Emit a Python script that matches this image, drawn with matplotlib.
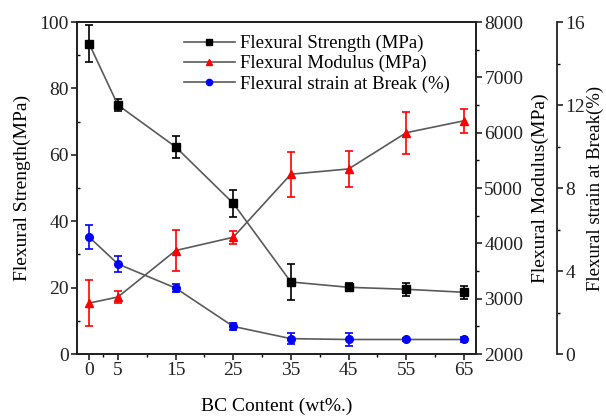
import matplotlib
matplotlib.use("Agg")
import matplotlib.pyplot as plt
from matplotlib.ticker import MultipleLocator, FixedLocator
from matplotlib.lines import Line2D

plt.rcParams['font.family'] = ['Liberation Serif', 'DejaVu Serif']

bc = [0, 5, 15, 25, 35, 45, 55, 65]
tick_labels = ['0', '5', '15', '25', '35', '45', '55', '65']
minor_x = [2.5, 10, 20, 30, 40, 50, 60]

strength = [93.5, 75.0, 62.4, 45.4, 21.7, 20.1, 19.5, 18.6]
strength_err = [5.6, 1.9, 3.4, 4.1, 5.4, 1.2, 2.0, 2.0]

modulus = [2920, 3030, 3870, 4110, 5250, 5345, 6000, 6215]
modulus_err = [420, 100, 370, 120, 410, 320, 380, 220]

strain = [5.64, 4.34, 3.18, 1.33, 0.74, 0.70, 0.70, 0.70]
strain_err = [0.56, 0.37, 0.20, 0.15, 0.27, 0.30, 0.05, 0.10]

labels = ['Flexural Strength (MPa)', 'Flexural Modulus (MPa)', 'Flexural strain at Break (%)']

fig = plt.figure(figsize=(6.06, 4.16), dpi=100)
ax = fig.add_axes([0.127, 0.149, 0.6585, 0.798])
ax2 = ax.twinx()
ax3 = ax.twinx()
ax3.spines['right'].set_position(('axes', 1.203))

line_col = '#5a5a5a'
fs = 14

ax.errorbar(bc, strength, yerr=strength_err, color=line_col, marker='s', ms=5.5,
            mfc='black', mec='black', ecolor='black', capsize=3, elinewidth=1.2,
            capthick=1.2, lw=1.2, zorder=3)
ax2.errorbar(bc, modulus, yerr=modulus_err, color=line_col, marker='^', ms=6,
             mfc='red', mec='red', ecolor='red', capsize=3, elinewidth=1.2,
             capthick=1.2, lw=1.2, zorder=3)
ax3.errorbar(bc, strain, yerr=strain_err, color=line_col, marker='o', ms=5.5,
             mfc='blue', mec='blue', ecolor='blue', capsize=3, elinewidth=1.2,
             capthick=1.2, lw=1.2, zorder=3)

ax.set_xlim(-2.1, 67.1)
ax.set_ylim(0, 100)
ax2.set_ylim(2000, 8000)
ax3.set_ylim(0, 16)

ax.xaxis.set_major_locator(FixedLocator(bc))
ax.set_xticklabels(tick_labels)
ax.xaxis.set_minor_locator(FixedLocator(minor_x))
ax.yaxis.set_major_locator(MultipleLocator(20))
ax.yaxis.set_minor_locator(MultipleLocator(10))
ax2.yaxis.set_major_locator(MultipleLocator(1000))
ax2.yaxis.set_minor_locator(MultipleLocator(500))
ax3.yaxis.set_major_locator(MultipleLocator(4))
ax3.yaxis.set_minor_locator(MultipleLocator(2))

for a in (ax, ax2, ax3):
    a.tick_params(axis='both', which='major', labelsize=fs, direction='out', length=4,
                  width=1.2, colors='#222222', pad=2)
    a.tick_params(axis='both', which='minor', direction='out', length=2.5, width=1.0)
    for s in a.spines.values():
        s.set_linewidth(1.3)
        s.set_color('#222222')

ax.tick_params(axis='y', which='minor', direction='in', length=2.5)
ax3.spines['left'].set_visible(False)
ax3.spines['top'].set_visible(False)
ax3.spines['bottom'].set_visible(False)

ax.set_xlabel('BC Content (wt%.)', fontsize=fs, labelpad=13)
ax.set_ylabel('Flexural Strength(MPa)', fontsize=fs, labelpad=6)
ax2.set_ylabel('Flexural Modulus(MPa)', fontsize=fs, labelpad=6)
ax3.set_ylabel('Flexural strain at Break(%)', fontsize=13.5, labelpad=1)

handles = [
    Line2D([], [], color=line_col, lw=1.2, marker='s', ms=4.5, mfc='black', mec='black'),
    Line2D([], [], color=line_col, lw=1.2, marker='^', ms=5, mfc='red', mec='red'),
    Line2D([], [], color=line_col, lw=1.2, marker='o', ms=4.5, mfc='blue', mec='blue'),
]
ax.legend(handles, labels, loc='upper left', bbox_to_anchor=(0.24, 0.995),
          frameon=False, fontsize=13.5, handlelength=2.7, handletextpad=0.3,
          labelspacing=0.15, borderaxespad=0.2)

fig.savefig('out.png', dpi=100)
